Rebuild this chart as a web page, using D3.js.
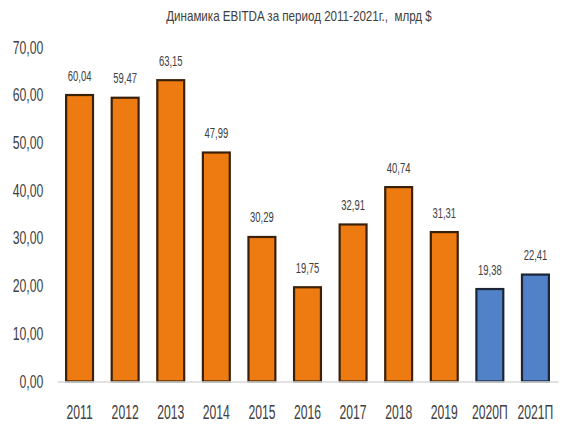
<!DOCTYPE html>
<html>
<head>
<meta charset="utf-8">
<script src="https://cdn.jsdelivr.net/npm/d3@7"></script>
<style>
  body { margin: 0; background: #fff; }
  text { font-family: "Liberation Sans", Arial, sans-serif; }
</style>
</head>
<body>
<div id="box"></div>
<script>
'use strict';

var years = ["2011", "2012", "2013", "2014", "2015", "2016", "2017", "2018", "2019", "2020П", "2021П"];
var ebitda = [60.04, 59.47, 63.15, 47.99, 30.29, 19.75, 32.91, 40.74, 31.31, 19.38, 22.41];
var forecast = [false, false, false, false, false, false, false, false, false, true, true];
var yTicks = [0, 10, 20, 30, 40, 50, 60, 70];
var title = "Динамика EBITDA за период 2011-2021г.,  млрд $";

var width = 570, height = 431;
var fmt = function(v) { return v.toFixed(2).replace(".", ","); };

var svg = d3.select("#box")
  .append("svg")
    .attr("width", width)
    .attr("height", height);

svg.append("rect")
  .attr("width", width)
  .attr("height", height)
  .attr("fill", "#fff");

// title
svg.append("text")
  .attr("transform", "translate(299,21) scale(0.8,1)")
  .attr("text-anchor", "middle")
  .attr("xml:space", "preserve")
  .style("white-space", "pre")
  .style("font-size", "14.5px")
  .attr("fill", "#404040")
  .text(title);

var x = d3.scaleBand()
  .domain(years)
  .range([57, 558])
  .paddingInner(0.41)
  .paddingOuter(0.2);

var y = d3.scaleLinear()
  .domain([0, 70])
  .range([381.5, 47.5]);

// Y axis, labels only
var yAxis = svg.append("g")
  .attr("transform", "translate(57,0)")
  .call(d3.axisLeft(y).tickValues(yTicks).tickFormat(fmt).tickSize(0));
yAxis.select(".domain").remove();
yAxis.selectAll("text")
  .attr("x", -13.7 / 0.7)
  .attr("transform", "scale(0.7,1)")
  .attr("fill", "#404040")
  .style("font-size", "17.5px")
  .style("font-family", "Liberation Sans, Arial, sans-serif");

// bars
svg.selectAll(".bar")
  .data(ebitda)
  .enter().append("rect")
    .attr("class", "bar")
    .attr("x", function(d, i) { return x(years[i]); })
    .attr("y", function(d) { return y(d); })
    .attr("width", x.bandwidth())
    .attr("height", function(d) { return y(0) - y(d); })
    .attr("fill", function(d, i) { return forecast[i] ? "#5182c8" : "#ee7b12"; })
    .attr("stroke", function(d, i) { return forecast[i] ? "#1b2536" : "#3a2008"; })
    .attr("stroke-width", 2.2);

// X axis
var xAxis = svg.append("g")
  .attr("transform", "translate(0," + y(0) + ")")
  .call(d3.axisBottom(x).tickSize(0).tickSizeOuter(0));
xAxis.select(".domain")
  .attr("stroke", "#d9d9d9")
  .attr("stroke-width", 1.5);
xAxis.selectAll("text")
  .attr("y", 38)
  .attr("dy", 0)
  .attr("transform", "scale(0.58,1)")
  .attr("fill", "#404040")
  .style("font-size", "21px")
  .style("font-family", "Liberation Sans, Arial, sans-serif");

// value labels
svg.selectAll(".val")
  .data(ebitda)
  .enter().append("text")
    .attr("class", "val")
    .attr("text-anchor", "middle")
    .attr("transform", function(d, i) {
      return "translate(" + (x(years[i]) + x.bandwidth() / 2) + "," + (y(d) - 14.5) + ") scale(0.63,1)";
    })
    .attr("fill", "#404040")
    .style("font-size", "15px")
    .text(fmt);
</script>
</body>
</html>
